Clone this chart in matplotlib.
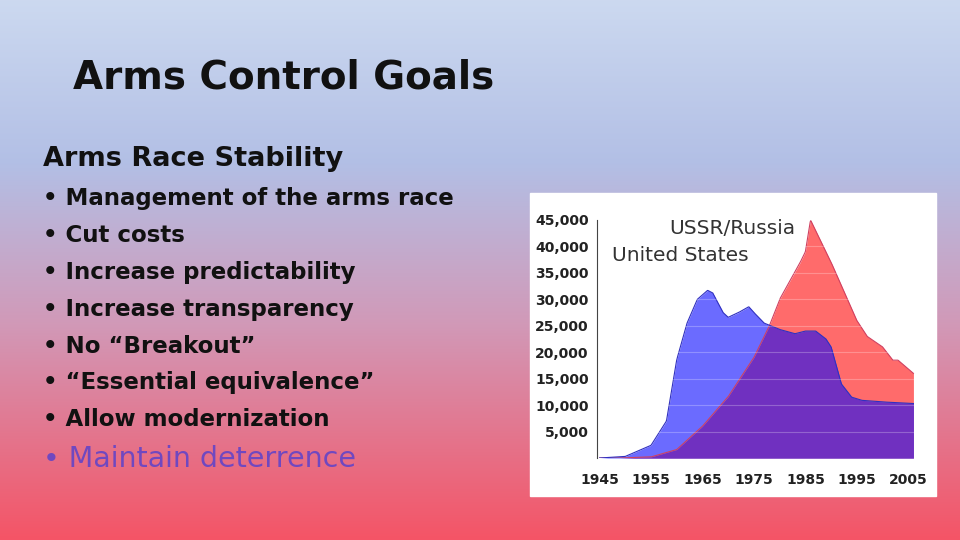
import numpy as np
import matplotlib
matplotlib.use("Agg")
import matplotlib.pyplot as plt
from matplotlib.colors import LinearSegmentedColormap

us_years = [1945,1950,1955,1958,1960,1962,1964,1966,1967,1969,1970,1972,1974,1975,1977,1980,1983,1985,1987,1989,1990,1992,1994,1996,2000,2006]
us_vals = [0,300,2400,7000,18600,25500,30000,31700,31200,27500,26600,27500,28600,27500,25500,24300,23500,24000,24000,22500,21000,14000,11500,10900,10600,10300]
ru_years = [1945,1949,1955,1960,1965,1970,1975,1978,1980,1984,1985,1986,1990,1995,1997,2000,2002,2003,2006]
ru_vals = [0,0,200,1600,6000,11600,19000,25000,30000,37000,39000,45000,37000,26000,23000,21000,18500,18500,16000]
yticks = [5000,10000,15000,20000,25000,30000,35000,40000,45000]
xticks = [1945,1955,1965,1975,1985,1995,2005]
bullets = ["• Management of the arms race","• Cut costs","• Increase predictability",
           "• Increase transparency","• No “Breakout”","• “Essential equivalence”","• Allow modernization"]

fig = plt.figure(figsize=(9.6,5.4), dpi=100)
bg = fig.add_axes([0,0,1,1]); bg.axis("off")
cmap = LinearSegmentedColormap.from_list("g", [(0,(0.80,0.85,0.94)),(0.3,(0.70,0.75,0.90)),(0.6,(0.82,0.60,0.72)),(1,(0.96,0.33,0.40))])
bg.imshow(np.linspace(0,1,256)[:,None], aspect="auto", cmap=cmap, extent=[0,1,0,1], transform=bg.transAxes)
bg.set_xlim(0,1); bg.set_ylim(0,1)
bg.add_patch(plt.Rectangle((530/960, 1-496/540), 406/960, 303/540, color="white", zorder=2))

F = "DejaVu Sans"
fig.text(73/960, 1-78/540, "Arms Control Goals", fontsize=28, fontweight="bold", family=F, va="center", color="#111")
fig.text(43/960, 1-159/540, "Arms Race Stability", fontsize=19.5, fontweight="bold", family=F, va="center", color="#111")
for i, b in enumerate(bullets):
    fig.text(43/960, 1-(199+36.8*i)/540, b, fontsize=16.5, fontweight="bold", family=F, va="center", color="#111")
fig.text(43/960, 1-459/540, "• Maintain deterrence", fontsize=20.5, family=F, va="center", color="#7048c0")

ax = fig.add_axes([597/960, 1-458/540, 319/960, 238/540])
ax.set_xlim(1944.5, 2006.5); ax.set_ylim(0, 45000)
ux = np.array(us_years); uy = np.array(us_vals)
rx = np.array(ru_years); ry = np.array(ru_vals)
grid = np.linspace(1945, 2006, 600)
ui = np.interp(grid, ux, uy); ri = np.interp(grid, rx, ry)
ax.fill_between(grid, 0, ri, color="#ff6b6b", lw=0)
ax.fill_between(grid, 0, ui, color="#6b6bff", lw=0)
ax.fill_between(grid, 0, np.minimum(ui, ri), color="#7030c0", lw=0)
ax.plot(grid, ri, color="#d04060", lw=0.8)
ax.plot(grid, ui, color="#3030c0", lw=0.8)
for y in yticks:
    ax.axhline(y, color="white", alpha=0.25, lw=0.8)
for s in ["top","right","bottom"]:
    ax.spines[s].set_visible(False)
ax.spines["left"].set_color("#444")
ax.set_xticks(xticks); ax.set_yticks(yticks)
ax.set_yticklabels([f"{v:,}" for v in yticks])
ax.tick_params(length=0, labelsize=10, colors="#222")
ax.tick_params(axis="x", pad=11)
ax.tick_params(axis="y", pad=6)
for lab in ax.get_xticklabels()+ax.get_yticklabels():
    lab.set_fontweight("bold")
ax.set_facecolor("none")
ax.text(1958.5, 43400, "USSR/Russia", fontsize=14.5, color="#333", va="center")
ax.text(1947.5, 38300, "United States", fontsize=14.5, color="#333", va="center")
fig.savefig("out.png", dpi=100)
